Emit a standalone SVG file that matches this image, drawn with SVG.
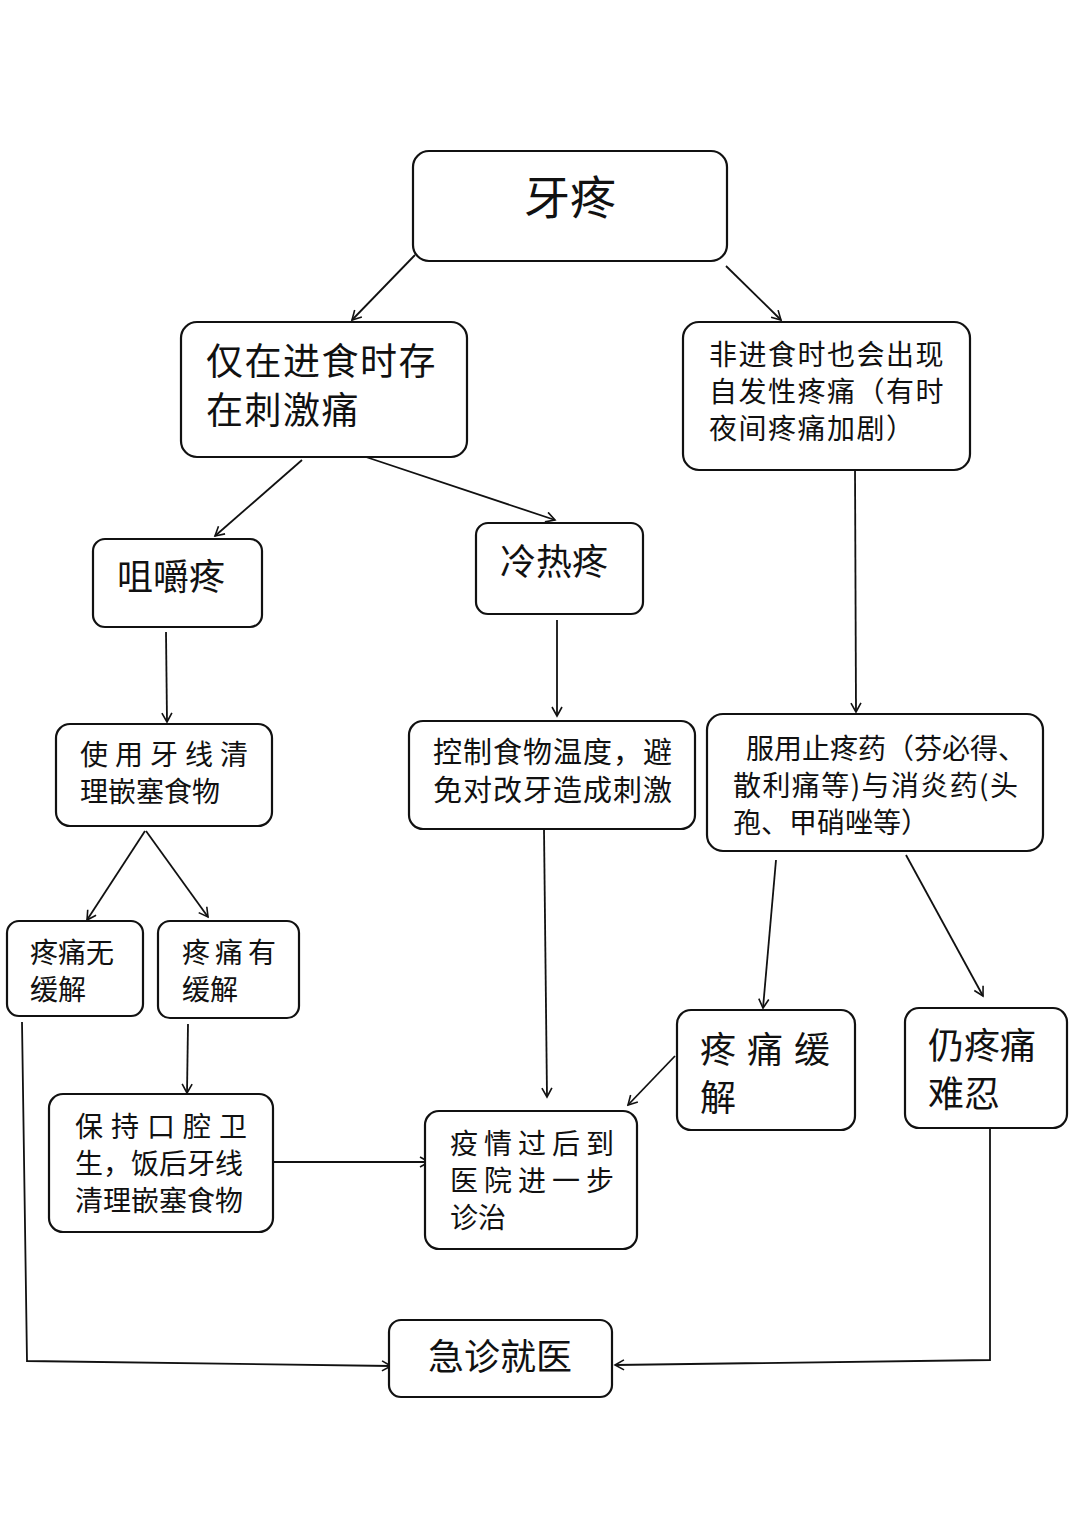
<svg xmlns="http://www.w3.org/2000/svg" width="1080" height="1530" viewBox="0 0 1080 1530">
<style>
.box{fill:#fff;stroke:#111;stroke-width:2.2}
.t{font-family:"Noto Sans CJK SC","Noto Sans",sans-serif;fill:#111}
.c{fill:none;stroke:#111;stroke-width:1.8}
</style>
<defs>
<marker id="ah" markerWidth="12" markerHeight="12" refX="10" refY="6" orient="auto" markerUnits="userSpaceOnUse">
<path d="M1,1 L10,6 L1,11" fill="none" stroke="#111" stroke-width="1.6"/>
</marker>
</defs>
<rect width="1080" height="1530" fill="#fff"/>
<g id="connectors">
<line class="c" x1="415" y1="255" x2="352" y2="320" marker-end="url(#ah)"/>
<line class="c" x1="726" y1="266" x2="781" y2="320" marker-end="url(#ah)"/>
<line class="c" x1="302" y1="460" x2="215" y2="536" marker-end="url(#ah)"/>
<line class="c" x1="360" y1="455" x2="555" y2="520" marker-end="url(#ah)"/>
<line class="c" x1="855" y1="465" x2="856" y2="712" marker-end="url(#ah)"/>
<line class="c" x1="166" y1="632" x2="167" y2="722" marker-end="url(#ah)"/>
<line class="c" x1="557" y1="620" x2="557" y2="716" marker-end="url(#ah)"/>
<line class="c" x1="145" y1="831" x2="87" y2="920" marker-end="url(#ah)"/>
<line class="c" x1="146" y1="831" x2="208" y2="917" marker-end="url(#ah)"/>
<line class="c" x1="776" y1="860" x2="763" y2="1008" marker-end="url(#ah)"/>
<line class="c" x1="906" y1="855" x2="983" y2="996" marker-end="url(#ah)"/>
<line class="c" x1="544" y1="829" x2="547" y2="1097" marker-end="url(#ah)"/>
<line class="c" x1="675" y1="1056" x2="628" y2="1105" marker-end="url(#ah)"/>
<line class="c" x1="188" y1="1024" x2="187" y2="1093" marker-end="url(#ah)"/>
<line class="c" x1="273" y1="1162" x2="429" y2="1162" marker-end="url(#ah)"/>
<polyline class="c" points="22,1022 27,1361 391,1366" marker-end="url(#ah)"/>
<polyline class="c" points="990,1115 990,1360 615,1365" marker-end="url(#ah)"/>
</g>
<g id="n1"><rect class="box" x="413" y="151" width="314" height="110" rx="16"/>
<text class="t" x="570" y="214" font-size="46" text-anchor="middle">牙疼</text></g>
<g id="n2"><rect class="box" x="181" y="322" width="286" height="135" rx="16"/>
<text class="t" font-size="37" letter-spacing="1.5"><tspan x="206" y="375">仅在进食时存</tspan><tspan x="206" y="424">在刺激痛</tspan></text></g>
<g id="n3"><rect class="box" x="683" y="322" width="287" height="148" rx="16"/>
<text class="t" font-size="28" letter-spacing="1.5"><tspan x="709" y="365">非进食时也会出现</tspan><tspan x="709" y="402">自发性疼痛（有时</tspan><tspan x="709" y="439">夜间疼痛加剧）</tspan></text></g>
<g id="n4"><rect class="box" x="93" y="539" width="169" height="88" rx="12"/>
<text class="t" x="117" y="590" font-size="36">咀嚼疼</text></g>
<g id="n5"><rect class="box" x="476" y="523" width="167" height="91" rx="12"/>
<text class="t" x="500" y="575" font-size="36">冷热疼</text></g>
<g id="n6"><rect class="box" x="56" y="724" width="216" height="102" rx="14"/>
<text class="t" font-size="28"><tspan x="80" y="765" letter-spacing="7">使用牙线清</tspan><tspan x="80" y="802">理嵌塞食物</tspan></text></g>
<g id="n7"><rect class="box" x="409" y="721" width="286" height="108" rx="14"/>
<text class="t" font-size="29" letter-spacing="1"><tspan x="433" y="763">控制食物温度，避</tspan><tspan x="433" y="801">免对改牙造成刺激</tspan></text></g>
<g id="n8"><rect class="box" x="707" y="714" width="336" height="137" rx="16"/>
<text class="t" font-size="28"><tspan x="746" y="759">服用止疼药（芬必得、</tspan><tspan x="733" y="796" textLength="285" lengthAdjust="spacing">散利痛等)与消炎药(头</tspan><tspan x="733" y="833">孢、甲硝唑等）</tspan></text></g>
<g id="n9"><rect class="box" x="7" y="921" width="136" height="95" rx="12"/>
<text class="t" font-size="28"><tspan x="30" y="963">疼痛无</tspan><tspan x="30" y="1000">缓解</tspan></text></g>
<g id="n10"><rect class="box" x="158" y="921" width="141" height="97" rx="12"/>
<text class="t" font-size="28"><tspan x="182" y="963" letter-spacing="5">疼痛有</tspan><tspan x="182" y="1000">缓解</tspan></text></g>
<g id="n11"><rect class="box" x="49" y="1094" width="224" height="138" rx="14"/>
<text class="t" font-size="28"><tspan x="75" y="1137" letter-spacing="8">保持口腔卫</tspan><tspan x="75" y="1174">生，饭后牙线</tspan><tspan x="75" y="1211">清理嵌塞食物</tspan></text></g>
<g id="n12"><rect class="box" x="425" y="1111" width="212" height="138" rx="14"/>
<text class="t" font-size="28"><tspan x="450" y="1154" letter-spacing="6">疫情过后到</tspan><tspan x="450" y="1191" letter-spacing="6">医院进一步</tspan><tspan x="450" y="1228">诊治</tspan></text></g>
<g id="n13"><rect class="box" x="677" y="1010" width="178" height="120" rx="14"/>
<text class="t" font-size="36"><tspan x="700" y="1063" letter-spacing="11">疼痛缓</tspan><tspan x="700" y="1111">解</tspan></text></g>
<g id="n14"><rect class="box" x="905" y="1008" width="162" height="120" rx="14"/>
<text class="t" font-size="36"><tspan x="928" y="1059">仍疼痛</tspan><tspan x="928" y="1107">难忍</tspan></text></g>
<g id="n15"><rect class="box" x="389" y="1320" width="223" height="77" rx="12"/>
<text class="t" x="500" y="1370" font-size="36" text-anchor="middle">急诊就医</text></g>
</svg>
